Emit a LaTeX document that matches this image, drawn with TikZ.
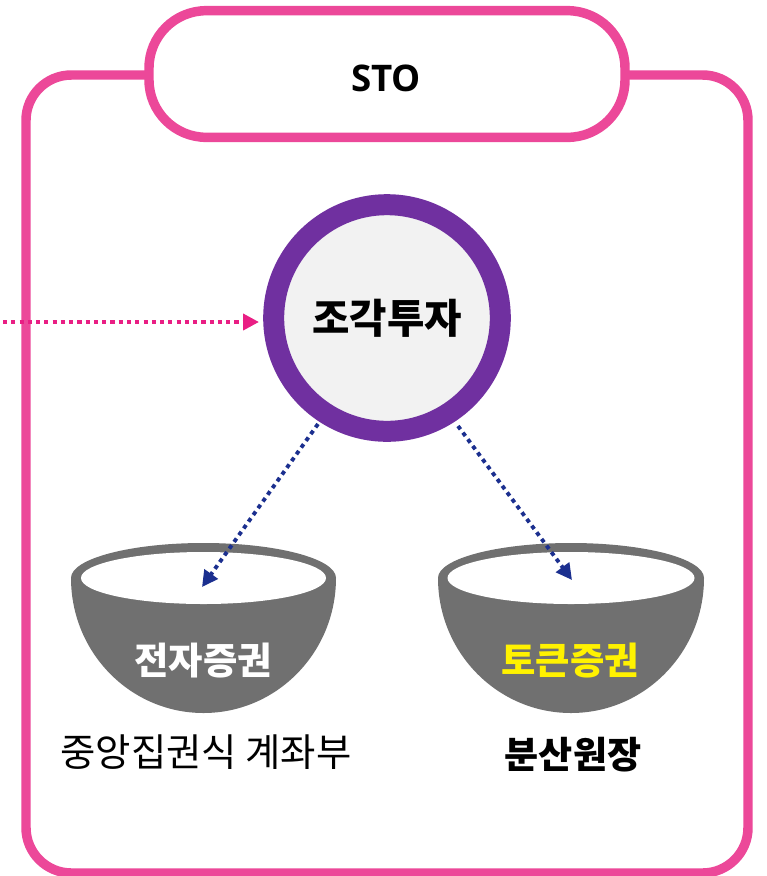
\documentclass[tikz,border=0pt]{standalone}
\usepackage{fontspec}
\setmainfont{Noto Sans CJK KR}
\newfontfamily\latinbold{Open Sans}
\usetikzlibrary{arrows.meta}
\definecolor{pinkc}{HTML}{EC4899}
\definecolor{pinkd}{HTML}{E91E84}
\definecolor{purp}{HTML}{7030A0}
\definecolor{navy}{HTML}{1B2F8F}
\definecolor{bowl}{HTML}{707070}
\tikzset{
 px/.style={x=0.75pt,y=-0.75pt},
 frame/.style={draw=pinkc,line width=7.1pt,rounded corners=34pt},
 lbl/.style={inner sep=0pt},
 dots/.style={line width=2.9pt,dash pattern=on 3.1pt off 3.1pt},
 tip/.style={-{Triangle[length=12pt,width=12pt]}},
}
\begin{document}
\begin{tikzpicture}[px]
\useasboundingbox (0,0) rectangle (767,876);
\fill[white] (0,0) rectangle (767,876);
\begin{scope}
\clip (0,0) rectangle (767,876);
\draw[frame] (26,873) -- (26,75) -- (748,75) -- (748,873) -- cycle;
\end{scope}
\node[draw=pinkc,fill=white,line width=7.1pt,rounded corners=43pt,minimum width=357pt,minimum height=95pt,inner sep=0pt] (title) at (387,74) {};
\node[lbl,font=\bfseries\fontsize{27.5pt}{30pt}\selectfont] at (386,78) {\latinbold STO};
\node[circle,draw=purp,fill=black!5,line width=15.75pt,minimum size=170pt,inner sep=0pt,font=\bfseries\fontsize{30.5pt}{34pt}\selectfont] (c) at (387,318) {조각투자};
\coordinate (ls) at (3,322);
\coordinate (le) at (259,322);
\draw[pinkd,dots,tip] (ls) -- (le);
% bowls
\fill[bowl] (71,578) arc[start angle=180,end angle=360,x radius=132.5,y radius=35] arc[start angle=0,end angle=180,x radius=132.5,y radius=135] -- cycle;
\fill[white] (203.5,578) ellipse[x radius=122.5,y radius=26];
\fill[bowl] (438,578) arc[start angle=180,end angle=360,x radius=133,y radius=35] arc[start angle=0,end angle=180,x radius=133,y radius=135] -- cycle;
\fill[white] (571,578) ellipse[x radius=123.5,y radius=26];
\coordinate (a1) at (202,587);
\coordinate (a2) at (572,580);
\coordinate (s1) at (318,424);
\coordinate (s2) at (458,426);
\draw[navy,dots,tip] (s1) -- (a1);
\draw[navy,dots,tip] (s2) -- (a2);
\node[lbl,text=white,font=\bfseries\fontsize{28pt}{32pt}\selectfont] at (203,661) {전자증권};
\node[lbl,text=yellow,font=\bfseries\fontsize{28pt}{32pt}\selectfont] at (570,661) {토큰증권};
\node[lbl,font=\fontsize{28.8pt}{32pt}\selectfont] at (206,752) {중앙집권식 계좌부};
\node[lbl,font=\bfseries\fontsize{27.8pt}{32pt}\selectfont] at (573,755) {분산원장};
\end{tikzpicture}
\end{document}
